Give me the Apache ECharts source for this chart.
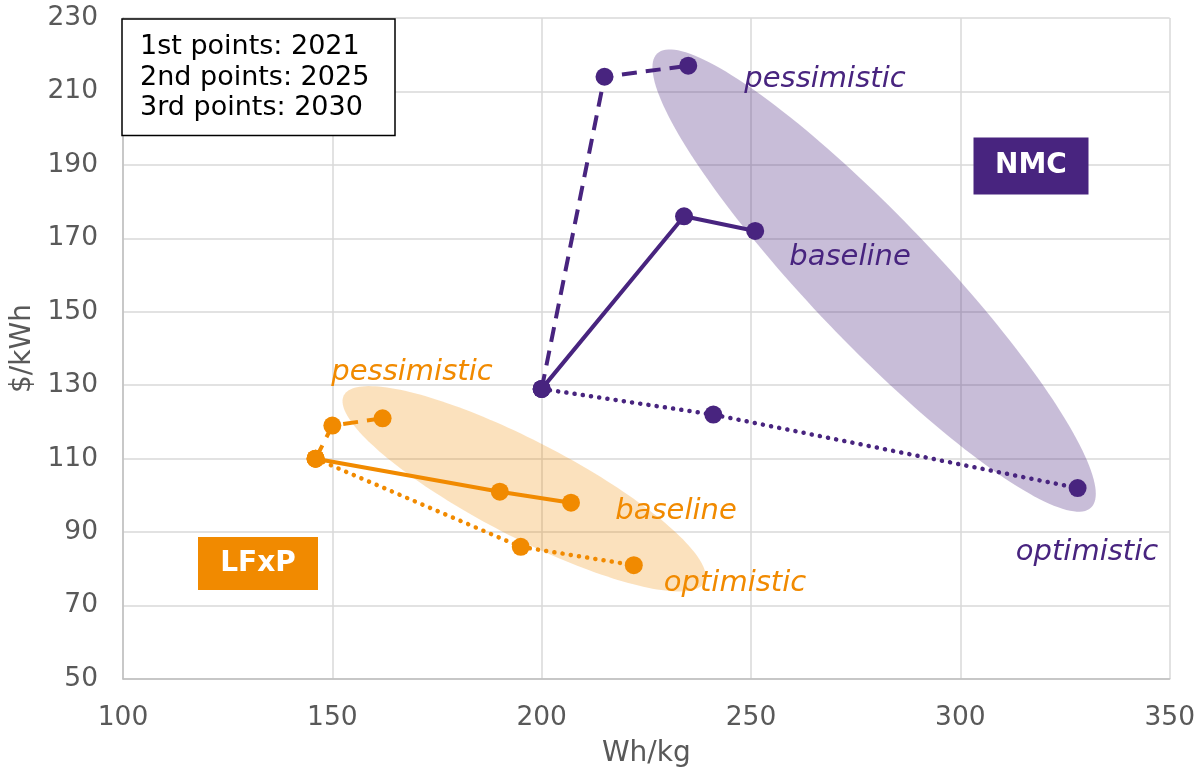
<!DOCTYPE html>
<html><head><meta charset="utf-8">
<script src="https://cdn.jsdelivr.net/npm/echarts@6/dist/echarts.min.js"></script>
<style>html,body{margin:0;padding:0;background:#fff}#c{width:1198px;height:774px}</style>
</head><body><div id="c"></div>
<script>
// ---- data ----
const xTicks = [100, 150, 200, 250, 300, 350];
const yTicks = [50, 70, 90, 110, 130, 150, 170, 190, 210, 230];
const nmcPessimistic = [[200, 129], [215, 214], [235, 217]];
const nmcBaseline    = [[200, 129], [234, 176], [251, 172]];
const nmcOptimistic  = [[200, 129], [241, 122], [328, 102]];
const lfpPessimistic = [[146, 110], [150, 119], [162, 121]];
const lfpBaseline    = [[146, 110], [190, 101], [207, 98]];
const lfpOptimistic  = [[146, 110], [195, 86], [222, 81]];
const nmcCluster = [[279.4, 158.5]];
const lfpCluster = [[195.8, 101.8]];
const yearNotes = ['1st points: 2021', '2nd points: 2025', '3rd points: 2030'];
const scenarioNames = ['pessimistic', 'baseline', 'optimistic'];
const techNames = ['NMC', 'LFxP'];

// ---- styles ----
const FONT = 'DejaVu Sans';
const PURPLE = '#48247F';
const ORANGE = '#F18A00';
const GREY = '#595959';

function lineSeries(name, data, color, kind) {
  const ls = { color: color, width: 4 };
  if (kind === 'dashed') { ls.type = [15, 9]; }
  if (kind === 'dotted') { ls.type = [0.1, 8.2]; ls.cap = 'round'; ls.width = 4.5; }
  return {
    name: name, type: 'line', data: data, z: 5,
    symbol: 'circle', symbolSize: 18, showSymbol: true,
    itemStyle: { color: color }, lineStyle: ls, silent: true
  };
}

function ellipseSeries(data, fill, a, b, deg) {
  return {
    type: 'custom', data: data, z: 1, silent: true,
    renderItem: function (params, api) {
      const c = api.coord([api.value(0), api.value(1)]);
      const t = deg * Math.PI / 180, pts = [];
      for (let i = 0; i < 180; i++) {
        const u = i / 180 * 2 * Math.PI;
        const ex = a * Math.cos(u), ey = b * Math.sin(u);
        pts.push([c[0] + ex * Math.cos(t) - ey * Math.sin(t), c[1] + ex * Math.sin(t) + ey * Math.cos(t)]);
      }
      return { type: 'polygon', shape: { points: pts }, style: { fill: fill } };
    }
  };
}

function label(text, x, y, color, size) {
  return {
    type: 'text', z: 100, x: x, y: y,
    style: { text: text, fill: color, fontSize: size, fontFamily: FONT, align: 'center', verticalAlign: 'middle' }
  };
}

const chart = echarts.init(document.getElementById('c'), null, { renderer: 'canvas' });
const italic = (t, x, y, c) => {
  const g = label(t, x, y, c, 29);
  g.style.fontStyle = 'italic';
  return g;
};
const bold = (t, x, y) => {
  const g = label(t, x, y, '#fff', 28);
  g.style.fontWeight = 'bold';
  return g;
};
const note = (t, y) => {
  const g = label(t, 140, y, '#000', 27);
  g.style.align = 'left';
  return g;
};

chart.setOption({
  animation: false,
  backgroundColor: '#fff',
  textStyle: { fontFamily: FONT },
  grid: { left: 123, top: 18, right: 27, bottom: 95, containLabel: false },
  xAxis: {
    type: 'value', min: 100, max: 350, interval: 50,
    name: 'Wh/kg', nameLocation: 'middle', nameGap: 61,
    nameTextStyle: { fontSize: 28, color: GREY, fontFamily: FONT },
    axisLine: { show: true, lineStyle: { color: '#BFBFBF', width: 1.5 } },
    axisTick: { show: false, customValues: xTicks },
    axisLabel: { fontSize: 26.5, color: GREY, margin: 26, fontFamily: FONT, customValues: xTicks },
    splitLine: { show: true, lineStyle: { color: '#D9D9D9', width: 1.5 } }
  },
  yAxis: {
    type: 'value', min: 50, max: 230,
    name: '$/kWh', nameLocation: 'middle', nameGap: 81,
    nameTextStyle: { fontSize: 28, color: GREY, fontFamily: FONT },
    axisLine: { show: true, lineStyle: { color: '#BFBFBF', width: 1.5 } },
    axisTick: { show: false, customValues: yTicks },
    axisLabel: { fontSize: 26.5, color: GREY, margin: 25, fontFamily: FONT, customValues: yTicks },
    splitLine: { show: true, lineStyle: { color: '#D9D9D9', width: 1.5 } }
  },
  series: [
    ellipseSeries(nmcCluster, 'rgba(72,36,127,0.30)', 314, 63, 46.3),
    ellipseSeries(lfpCluster, 'rgba(241,138,0,0.26)', 203, 48, 27.4),
    lineSeries('NMC pessimistic', nmcPessimistic, PURPLE, 'dashed'),
    lineSeries('NMC baseline', nmcBaseline, PURPLE, 'solid'),
    lineSeries('NMC optimistic', nmcOptimistic, PURPLE, 'dotted'),
    lineSeries('LFxP pessimistic', lfpPessimistic, ORANGE, 'dashed'),
    lineSeries('LFxP baseline', lfpBaseline, ORANGE, 'solid'),
    lineSeries('LFxP optimistic', lfpOptimistic, ORANGE, 'dotted')
  ],
  graphic: [
    { type: 'rect', z: 100, shape: { x: 122, y: 19, width: 273, height: 116.5 },
      style: { fill: '#fff', stroke: '#000', lineWidth: 1.5 } },
    note(yearNotes[0], 46.7),
    note(yearNotes[1], 77.5),
    note(yearNotes[2], 108.3),
    { type: 'rect', z: 100, shape: { x: 973.5, y: 137.5, width: 115, height: 57 }, style: { fill: PURPLE } },
    bold(techNames[0], 1031, 166),
    { type: 'rect', z: 100, shape: { x: 198, y: 537, width: 120, height: 53 }, style: { fill: ORANGE } },
    bold(techNames[1], 258, 563.5),
    italic(scenarioNames[0], 825, 79.5, PURPLE),
    italic(scenarioNames[1], 850, 257, PURPLE),
    italic(scenarioNames[2], 1087, 552, PURPLE),
    italic(scenarioNames[0], 412, 372, ORANGE),
    italic(scenarioNames[1], 676, 511, ORANGE),
    italic(scenarioNames[2], 735, 583, ORANGE)
  ]
});
</script>
</body></html>
